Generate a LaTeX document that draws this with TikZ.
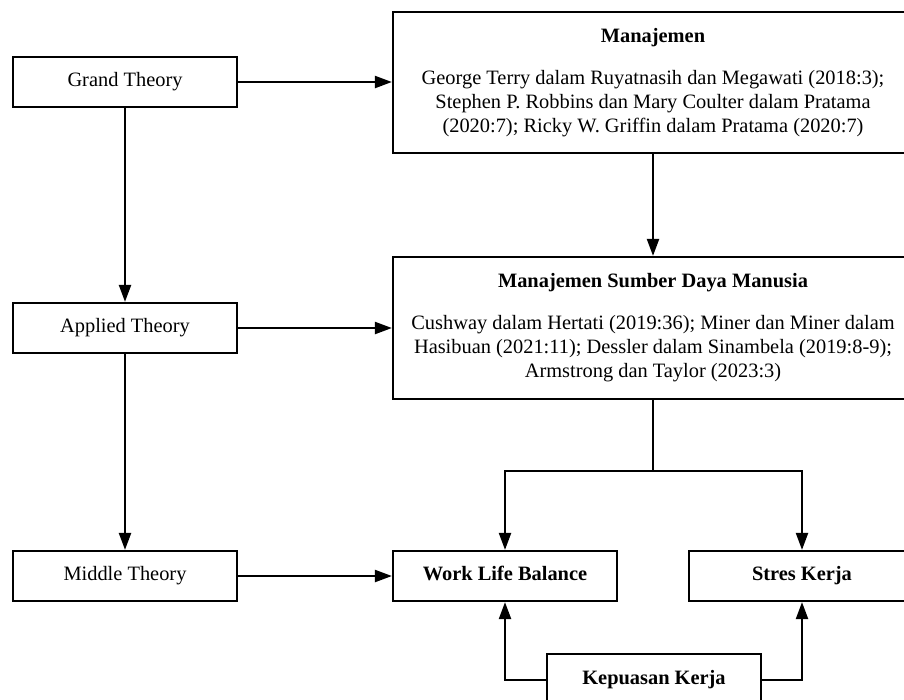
\documentclass[tikz,border=0pt]{standalone}
\usepackage{fontspec}
\setmainfont{Liberation Serif}
\usetikzlibrary{arrows.meta}

\tikzset{
    box/.style={draw, line width=2.2pt, minimum height=50pt, inner sep=0pt, align=center},
    single/.style={box, text height=14pt, text depth=4.5pt},
    link/.style={line width=2.2pt, -{Triangle[length=17pt,width=12pt]}},
    plain/.style={line width=2.2pt}
}

\begin{document}
\begin{tikzpicture}[x=1pt,y=-1pt,font=\fontsize{20.4}{24}\selectfont]
    \useasboundingbox (0,0) rectangle (904,699);
    \clip (0,0) rectangle (904,699);
    % left column
    \node[single, minimum width=224pt] (grand) at (125,82) {Grand Theory};
    \node[single, minimum width=224pt] (applied) at (125,328) {Applied Theory};
    \node[single, minimum width=224pt] (middle) at (125,576) {Middle Theory};
    % theories
    \node[box, minimum width=520pt, minimum height=141pt] (man) at (653,82.5)
        {\textbf{Manajemen}\\[18pt]
         George Terry dalam Ruyatnasih dan Megawati (2018:3);\\
         Stephen P. Robbins dan Mary Coulter dalam Pratama\\
         (2020:7); Ricky W. Griffin dalam Pratama (2020:7)};
    \node[box, minimum width=520pt, minimum height=142pt] (msdm) at (653,328)
        {\textbf{Manajemen Sumber Daya Manusia}\\[18pt]
         Cushway dalam Hertati (2019:36); Miner dan Miner dalam\\
         Hasibuan (2021:11); Dessler dalam Sinambela (2019:8-9);\\
         Armstrong dan Taylor (2023:3)};
    % variables
    \node[single, minimum width=224pt] (wlb) at (505,576) {\textbf{Work Life Balance}};
    \node[single, minimum width=226pt] (stres) at (802,576) {\textbf{Stres Kerja}};
    \node[single, minimum width=214pt, minimum height=52pt] (kepuasan) at (654,680) {\textbf{Kepuasan Kerja}};
    \coordinate (split) at (653,471);
    % arrows
    \draw[link] (grand) -- (grand -| man.west);
    \draw[link] (applied) -- (applied -| msdm.west);
    \draw[link] (middle) -- (wlb);
    \draw[link] (grand) -- (applied);
    \draw[link] (applied) -- (middle);
    \draw[link] (man) -- (msdm);
    \draw[plain] (msdm) -- (split);
    \draw[link] (split) -| (wlb);
    \draw[link] (split) -| (stres);
    \draw[link] (kepuasan) -| (wlb);
    \draw[link] (kepuasan) -| (stres);
\end{tikzpicture}
\end{document}
